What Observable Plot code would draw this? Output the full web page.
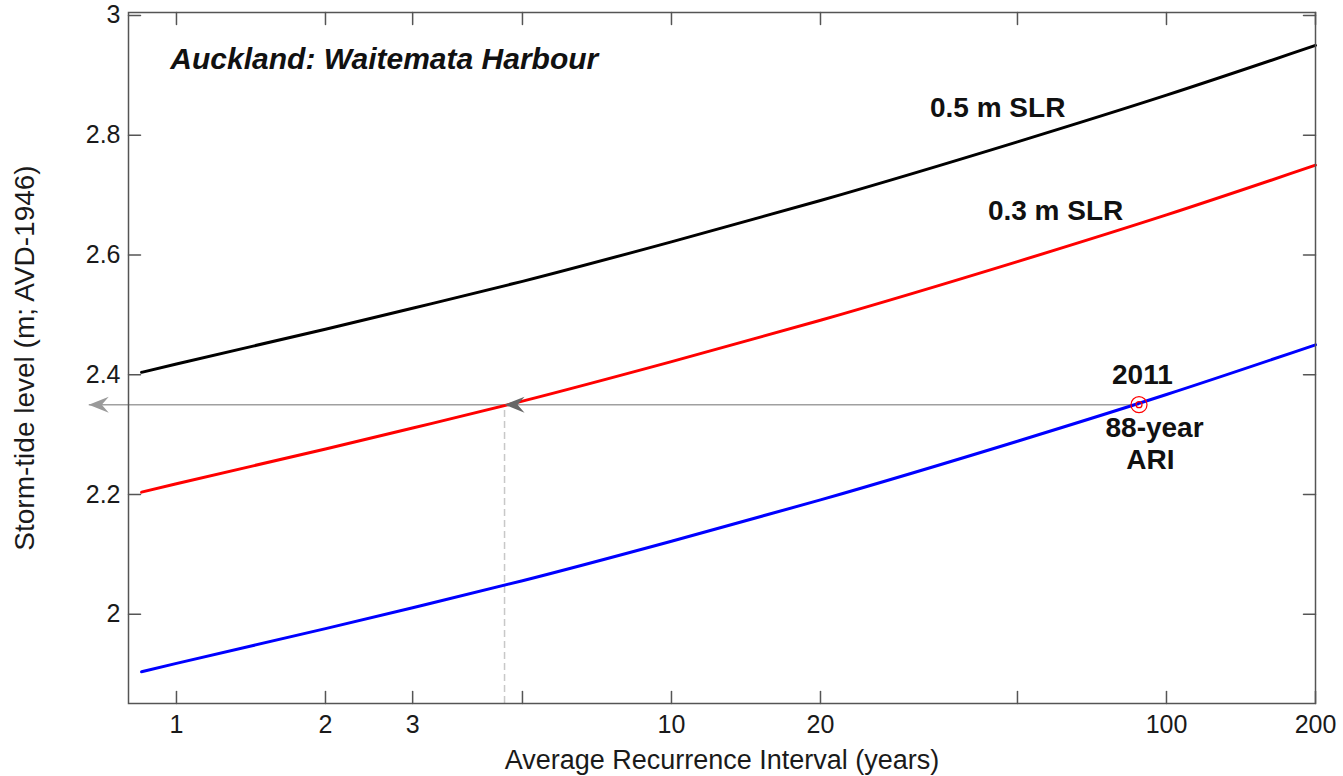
<!DOCTYPE html>
<html><head><meta charset="utf-8">
<script src="https://cdn.jsdelivr.net/npm/d3@7"></script>
<script src="https://cdn.jsdelivr.net/npm/@observablehq/plot@0.6"></script>
<style>
body{margin:0;background:#fff;}
#chart svg{font-family:"Liberation Sans", Arial, sans-serif;}
</style>
</head><body><div id="chart"></div>
<script>
// Average recurrence interval (years)
const ari = [0.85, 1, 2, 3, 5, 10, 20, 50, 100, 200];
// Storm-tide level (m; AVD-1946)
const level2011 = [1.904, 1.918, 1.976, 2.011, 2.056, 2.122, 2.191, 2.289, 2.367, 2.450];
const level03 = [2.204, 2.218, 2.276, 2.311, 2.356, 2.422, 2.491, 2.589, 2.667, 2.750];
const level05 = [2.404, 2.418, 2.476, 2.511, 2.556, 2.622, 2.691, 2.789, 2.867, 2.950];
const seriesNames = ["2011", "0.3 m SLR", "0.5 m SLR"];
const seriesColors = ["#0000ff", "#ff0000", "#000000"];

const xTicks = [1, 2, 3, 5, 10, 20, 50, 100, 200];
const yTicks = [2, 2.2, 2.4, 2.6, 2.8, 3];

// 2011 event
const eventAri = 88, eventLevel = 2.35;
const equivAri = 4.6;          // ARI of same level with 0.3 m SLR
const arrowTipAri = 0.665;     // left arrow tip (outside the axes)

const labels = [
  {text: "0.5 m SLR", x: 45.6, y: 2.846},
  {text: "0.3 m SLR", x: 59.7, y: 2.674},
  {text: "2011", x: 89.4, y: 2.399},
  {text: "88-year", x: 94.6, y: 2.311},
  {text: "ARI", x: 92.8, y: 2.258}
];
const title = {text: "Auckland: Waitemata Harbour", x: 0.972, y: 2.927};
const xTitle = "Average Recurrence Interval (years)";
const yTitle = "Storm-tide level (m; AVD-1946)";

const rows = [];
[level2011, level03, level05].forEach((arr, k) => arr.forEach((v, i) => rows.push({series: seriesNames[k], ari: ari[i], level: v})));

const tickLine = {draw(ctx, l) { ctx.moveTo(0, 0); ctx.lineTo(0, -l); }};
const stealthLeft = {draw(ctx) { ctx.moveTo(0, 0); ctx.lineTo(20, -8); ctx.lineTo(13, 0); ctx.lineTo(20, 8); ctx.closePath(); }};

const frameColor = "#555";
const font = '"Liberation Sans", Arial, sans-serif';

const chart = Plot.plot({
  width: 1343, height: 776,
  marginLeft: 128, marginRight: 28, marginTop: 12, marginBottom: 73,
  style: {fontFamily: font, background: "#fff"},
  x: {type: "log", domain: [0.8, 200]},
  y: {domain: [1.851, 3.005]},
  color: {domain: seriesNames, range: seriesColors},
  marks: [
    Plot.ruleX([equivAri], {y1: 1.851, y2: eventLevel, stroke: "#c8c8c8", strokeWidth: 1.5, strokeDasharray: "7,4"}),
    Plot.link([0], {x1: () => eventAri, x2: () => arrowTipAri, y1: () => eventLevel, y2: () => eventLevel, stroke: "#a0a0a0", strokeWidth: 1.5}),
    Plot.line(rows, {x: "ari", y: "level", z: "series", stroke: "series", strokeWidth: 3, curve: "monotone-x"}),
    Plot.dot([0], {x: () => arrowTipAri, y: () => eventLevel, symbol: stealthLeft, fill: "#9a9a9a", stroke: "none"}),
    Plot.dot([0], {x: () => equivAri, y: () => eventLevel, symbol: stealthLeft, fill: "#666", stroke: "none"}),
    Plot.dot([0], {x: () => eventAri, y: () => eventLevel, r: 8, stroke: "#ff0000", strokeWidth: 1.2, fill: "none"}),
    Plot.dot([0], {x: () => eventAri, y: () => eventLevel, r: 3, stroke: "#ff0000", strokeWidth: 1.2, fill: "none"}),
    Plot.frame({stroke: frameColor, strokeWidth: 1.5}),
    Plot.vector(xTicks, {x: d => d, frameAnchor: "bottom", length: 12, anchor: "start", rotate: 0, shape: tickLine, stroke: frameColor, strokeWidth: 1.5}),
    Plot.vector(xTicks, {x: d => d, frameAnchor: "top", length: 12, anchor: "start", rotate: 180, shape: tickLine, stroke: frameColor, strokeWidth: 1.5}),
    Plot.vector(yTicks, {y: d => d, frameAnchor: "left", length: 12, anchor: "start", rotate: 90, shape: tickLine, stroke: frameColor, strokeWidth: 1.5}),
    Plot.vector(yTicks, {y: d => d, frameAnchor: "right", length: 12, anchor: "start", rotate: -90, shape: tickLine, stroke: frameColor, strokeWidth: 1.5}),
    Plot.axisX({ticks: xTicks, tickSize: 0, tickPadding: 12, tickFormat: d => String(d), fontSize: 25, color: "#1a1a1a", label: null}),
    Plot.axisY({ticks: yTicks, tickSize: 0, tickPadding: 8, tickFormat: d => String(d), fontSize: 25, color: "#1a1a1a", label: null}),
    Plot.axisY({ticks: [], tickSize: 0, fontSize: 28, color: "#1a1a1a", label: yTitle, labelAnchor: "center", labelArrow: "none", labelOffset: 114}),
    Plot.text([xTitle], {frameAnchor: "bottom", dy: 57, lineAnchor: "middle", text: d => d, fontSize: 27, fill: "#1a1a1a"}),
    Plot.text([title], {x: "x", y: "y", text: "text", textAnchor: "start", fontSize: 30, fontWeight: "bold", fontStyle: "italic", fill: "#111"}),
    Plot.text(labels, {x: "x", y: "y", text: "text", fontSize: 28, fontWeight: "bold", fill: "#111"})
  ]
});
document.getElementById("chart").append(chart);
</script>
</body></html>
